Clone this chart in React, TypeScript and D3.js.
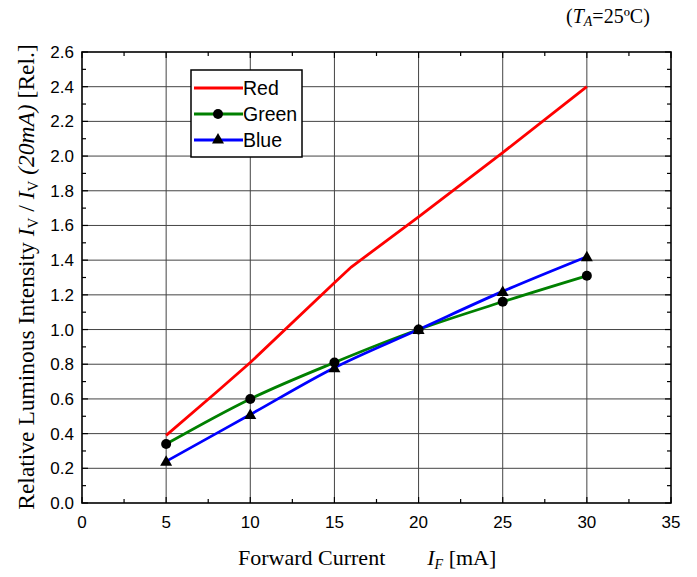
import React from "react";
import * as d3 from "d3";

const xTicks = [0, 5, 10, 15, 20, 25, 30, 35];
const yTicks = [0, 0.2, 0.4, 0.6, 0.8, 1.0, 1.2, 1.4, 1.6, 1.8, 2.0, 2.2, 2.4, 2.6];

const redX = [5, 8, 10, 15, 16, 20, 25, 30];
const redY = [0.39, 0.64, 0.81, 1.27, 1.36, 1.65, 2.02, 2.4];

const greenX = [5, 10, 15, 20, 25, 30];
const greenY = [0.34, 0.6, 0.81, 1.0, 1.16, 1.31];

const blueX = [5, 10, 15, 20, 25, 30];
const blueY = [0.24, 0.51, 0.78, 1.0, 1.22, 1.42];

const W = 697;
const H = 577;
const L = 82, R = 671, T = 52, B = 503;

export default function App() {
  const x = d3.scaleLinear().domain([0, 35]).range([L, R]);
  const y = d3.scaleLinear().domain([0, 2.6]).range([B, T]);

  const line = d3
    .line<[number, number]>()
    .x((d) => x(d[0]))
    .y((d) => y(d[1]));
  const smooth = d3
    .line<[number, number]>()
    .x((d) => x(d[0]))
    .y((d) => y(d[1]))
    .curve(d3.curveMonotoneX);

  const red = redX.map((v, i) => [v, redY[i]] as [number, number]);
  const green = greenX.map((v, i) => [v, greenY[i]] as [number, number]);
  const blue = blueX.map((v, i) => [v, blueY[i]] as [number, number]);

  const xMinor = d3.range(0, 35.01, 2.5);
  const yMinor = d3.range(0, 2.601, 0.1);

  const tri = (cx: number, cy: number, s = 6) =>
    `M${cx},${cy - s} L${cx + s},${cy + s * 0.75} L${cx - s},${cy + s * 0.75} Z`;

  const sans = "'Liberation Sans', Arial, sans-serif";
  const serif = "'Liberation Serif', 'Times New Roman', serif";

  const legX = 191, legY = 70, legW = 111, legH = 87;
  const rows = [
    { label: "Red", color: "#ff0000", marker: "none" },
    { label: "Green", color: "#008000", marker: "circle" },
    { label: "Blue", color: "#0000ff", marker: "tri" },
  ];

  return (
    <div style={{ position: "absolute", left: 0, top: 0 }}>
      <svg width={W} height={H} style={{ display: "block", background: "#fff" }}>
        {/* grid */}
        {xTicks.slice(1, -1).map((t) => (
          <line key={"gx" + t} x1={x(t)} x2={x(t)} y1={T} y2={B} stroke="#444" strokeWidth={1} />
        ))}
        {yTicks.slice(1, -1).map((t) => (
          <line key={"gy" + t} x1={L} x2={R} y1={y(t)} y2={y(t)} stroke="#444" strokeWidth={1} />
        ))}

        {/* ticks */}
        {xMinor.map((t, i) => {
          const len = i % 2 === 0 ? 6 : 4;
          return (
            <g key={"xt" + i}>
              <line x1={x(t)} x2={x(t)} y1={B} y2={B - len} stroke="#000" strokeWidth={1.2} />
              <line x1={x(t)} x2={x(t)} y1={T} y2={T + len} stroke="#000" strokeWidth={1.2} />
            </g>
          );
        })}
        {yMinor.map((t, i) => {
          const len = i % 2 === 0 ? 6 : 4;
          return (
            <g key={"yt" + i}>
              <line x1={L} x2={L + len} y1={y(t)} y2={y(t)} stroke="#000" strokeWidth={1.2} />
              <line x1={R} x2={R - len} y1={y(t)} y2={y(t)} stroke="#000" strokeWidth={1.2} />
            </g>
          );
        })}

        {/* frame */}
        <rect x={L} y={T} width={R - L} height={B - T} fill="none" stroke="#000" strokeWidth={1.6} />

        {/* tick labels */}
        {xTicks.map((t) => (
          <text key={"xl" + t} x={x(t)} y={528} textAnchor="middle" fontFamily={sans} fontSize={17}>
            {t}
          </text>
        ))}
        {yTicks.map((t) => (
          <text key={"yl" + t} x={74} y={y(t) + 6} textAnchor="end" fontFamily={sans} fontSize={17}>
            {t.toFixed(1)}
          </text>
        ))}

        {/* lines */}
        <path d={line(red) || ""} fill="none" stroke="#ff0000" strokeWidth={2.8} />
        <path d={smooth(green) || ""} fill="none" stroke="#008000" strokeWidth={2.8} />
        <path d={smooth(blue) || ""} fill="none" stroke="#0000ff" strokeWidth={2.8} />
        {green.map((d, i) => (
          <circle key={"gc" + i} cx={x(d[0])} cy={y(d[1])} r={5} fill="#000" />
        ))}
        {blue.map((d, i) => (
          <path key={"bt" + i} d={tri(x(d[0]), y(d[1]))} fill="#000" />
        ))}

        {/* legend */}
        <rect x={legX} y={legY} width={legW} height={legH} fill="#fff" stroke="#000" strokeWidth={1.5} />
        {rows.map((r, i) => {
          const cy = 88 + i * 26;
          return (
            <g key={r.label}>
              <line x1={194} x2={243} y1={cy} y2={cy} stroke={r.color} strokeWidth={2.8} />
              {r.marker === "circle" && <circle cx={218} cy={cy} r={5} fill="#000" />}
              {r.marker === "tri" && <path d={tri(218, cy - 1)} fill="#000" />}
              <text x={243} y={cy + 7} fontFamily={sans} fontSize={19.5}>
                {r.label}
              </text>
            </g>
          );
        })}

        {/* annotation */}
        <text x={566} y={23} fontFamily={serif} fontSize={20}>
          (<tspan fontStyle="italic">T</tspan>
          <tspan fontStyle="italic" fontSize={14} dy={3}>A</tspan>
          <tspan dy={-3}>=25ºC)</tspan>
        </text>

        {/* x title */}
        <text x={238} y={565} fontFamily={serif} fontSize={22}>
          Forward Current
          <tspan dx={42} fontStyle="italic">I</tspan>
          <tspan fontStyle="italic" fontSize={14} dy={4}>F</tspan>
          <tspan dy={-4}> [mA]</tspan>
        </text>

        {/* y title */}
        <text
          transform={`translate(34,${(42 + 512) / 2}) rotate(-90)`}
          textAnchor="middle"
          fontFamily={serif}
          fontSize={23.5}
        >
          Relative Luminous Intensity{" "}
          <tspan fontStyle="italic">I</tspan>
          <tspan fontSize={15} dy={4}>V</tspan>
          <tspan dy={-4}> / </tspan>
          <tspan fontStyle="italic">I</tspan>
          <tspan fontSize={15} dy={4}>V</tspan>
          <tspan dy={-4} fontStyle="italic"> (20mA)</tspan>
          <tspan> [Rel.]</tspan>
        </text>
      </svg>
    </div>
  );
}
